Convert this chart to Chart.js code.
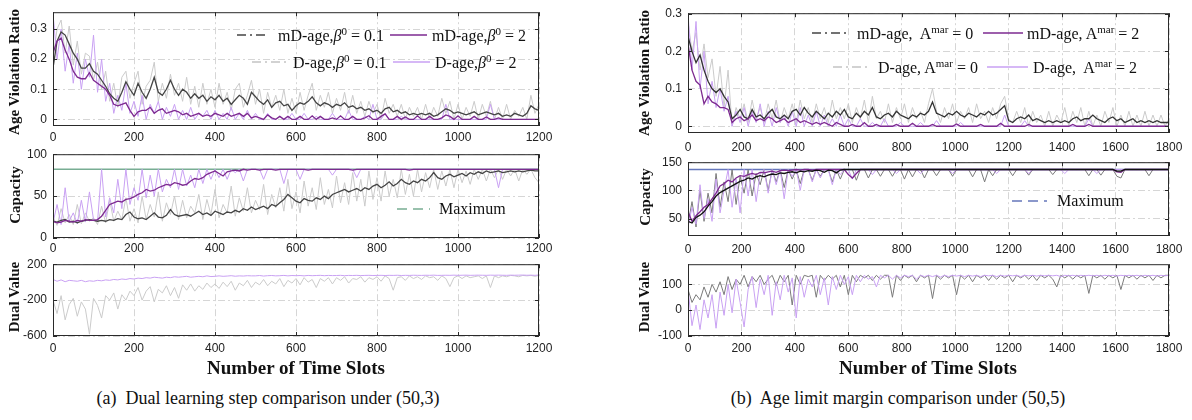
<!DOCTYPE html>
<html lang="en">
<head>
    <meta charset="UTF-8">
    <title>Dual learning step / Age limit margin comparison</title>
    <style>
        body { margin: 0; width: 1192px; height: 420px; background: #fff; position: relative; overflow: hidden; }
        canvas { position: absolute; }
        .ytitle, .xtitle, .cap, .lg, .smp { position: absolute; white-space: nowrap; color: #111; }
        .ytitle { font: bold 15px 'Liberation Serif', serif; transform: translate(-50%, -50%) rotate(-90deg); }
        .xtitle { font: bold 19px 'Liberation Serif', serif; transform: translate(-50%, -50%); }
        .cap { font: 18px 'Liberation Serif', serif; transform: translate(-50%, -50%); }
        .lg { font: 16px 'Liberation Serif', serif; transform: translateY(-50%); }
        .lg sup { font-size: 11px; vertical-align: 6px; }
        .lg i { font-style: italic; }
        .smp { transform: translateY(-50%); }
    </style>
</head>
<body>
    <canvas id="lt"></canvas>
    <canvas id="lm"></canvas>
    <canvas id="lb"></canvas>
    <canvas id="rt"></canvas>
    <canvas id="rm"></canvas>
    <canvas id="rb"></canvas>

    <div class="ytitle" style="left:14px;top:72px">Age Violation Ratio</div>
    <div class="ytitle" style="left:15px;top:195px">Capacity</div>
    <div class="ytitle" style="left:14px;top:297px">Dual Value</div>
    <div class="ytitle" style="left:644px;top:73px">Age Violation Ratio</div>
    <div class="ytitle" style="left:645px;top:197px">Capacity</div>
    <div class="ytitle" style="left:644px;top:297px">Dual Value</div>

    <div class="xtitle" style="left:296px;top:368px">Number of Time Slots</div>
    <div class="xtitle" style="left:928px;top:368px">Number of Time Slots</div>
    <div class="cap" style="left:268px;top:398px">(a)&nbsp; Dual learning step comparison under (50,3)</div>
    <div class="cap" style="left:898px;top:398px">(b)&nbsp; Age limit margin comparison under (50,5)</div>

    <div id="legends"></div>

    <script src="https://cdn.jsdelivr.net/npm/chart.js"></script>
    <script>
        // time slot positions of the sampled values
        const slotsA = Array.from({length: 121}, (_, i) => i * 10);
        const slotsB = Array.from({length: 121}, (_, i) => i * 15);

        const xTicksA = [0, 200, 400, 600, 800, 1000, 1200];
        const xTicksB = [0, 200, 400, 600, 800, 1000, 1200, 1400, 1600, 1800];
        const yTicksAge = [0, 0.1, 0.2, 0.3];
        const yTicksCapA = [0, 50, 100];
        const yTicksCapB = [50, 100, 150];
        const yTicksDualA = [-600, -200, 200];
        const yTicksDualB = [-100, 0, 100];

        const maxCapA = 82;
        const maxCapB = 137;

        // (a) age violation ratio
        const ageMdBeta01 = [
            0.17,0.26,0.29,0.28,0.25,0.22,0.2,0.17,0.17,0.185,
            0.16,0.15,0.13,0.11,0.085,0.07,0.06,0.09,0.125,0.1,
            0.08,0.12,0.09,0.07,0.1,0.14,0.09,0.08,0.1,0.13,
            0.1,0.08,0.1,0.09,0.07,0.085,0.07,0.08,0.06,0.075,
            0.065,0.08,0.06,0.07,0.05,0.065,0.08,0.07,0.05,0.09,
            0.075,0.06,0.05,0.065,0.04,0.055,0.06,0.045,0.05,0.03,
            0.045,0.055,0.05,0.06,0.075,0.055,0.045,0.055,0.05,0.04,
            0.05,0.045,0.055,0.04,0.045,0.035,0.04,0.03,0.035,0.025,
            0.03,0.02,0.035,0.04,0.025,0.03,0.02,0.025,0.015,0.02,
            0.015,0.02,0.015,0.02,0.01,0.015,0.025,0.035,0.03,0.02,
            0.025,0.02,0.015,0.02,0.025,0.015,0.02,0.025,0.02,0.015,
            0.02,0.01,0.015,0.01,0.02,0.015,0.01,0.02,0.045,0.035,0.03];
        const ageMdBeta2 = [
            0.22,0.26,0.27,0.23,0.2,0.16,0.14,0.135,0.135,0.155,
            0.13,0.12,0.11,0.1,0.08,0.05,0.045,0.05,0.055,0.03,
            0.01,0.025,0.03,0.03,0.04,0.02,0.03,0.035,0.02,0.025,
            0.03,0.025,0.015,0.02,0.01,0.015,0.02,0.01,0.015,0.01,
            0.02,0.015,0.01,0.02,0.01,0.015,0.02,0.01,0.02,0.005,
            0.01,0.005,0,0.015,0.005,0,0.01,0,0.01,0,
            0,0.01,0,0,0.012,0,0.01,0,0,0.005,
            0,0.012,0,0,0.01,0,0,0.005,0.012,0,
            0,0.01,0.018,0,0,0.01,0,0.008,0,0,
            0.012,0,0,0.01,0,0,0.005,0.015,0.01,0,
            0.012,0,0,0,0.01,0,0,0.008,0,0,
            0.005,0,0,0,0,0,0,0,0,0,0];
        const ageDBeta01 = [
            0.2,0.3,0.33,0.22,0.31,0.18,0.26,0.15,0.22,0.21,
            0.13,0.19,0.1,0.16,0.06,0.12,0.04,0.14,0.16,0.07,
            0.12,0.16,0.05,0.11,0.13,0.19,0.06,0.12,0.07,0.15,
            0.08,0.12,0.06,0.14,0.05,0.11,0.04,0.12,0.05,0.1,
            0.04,0.12,0.05,0.09,0.03,0.1,0.12,0.04,0.08,0.13,
            0.05,0.1,0.02,0.09,0.04,0.08,0.03,0.1,0.02,0.07,
            0.02,0.09,0.03,0.08,0.12,0.03,0.08,0.04,0.09,0.02,
            0.07,0.03,0.09,0.02,0.08,0.02,0.06,0.01,0.06,0.02,
            0.05,0,0.07,0.02,0.05,0.01,0.05,0,0.04,0.01,
            0.04,0,0.05,0,0.04,0.01,0.07,0.02,0.06,0,
            0.05,0,0.04,0.01,0.06,0,0.05,0.01,0.06,0,
            0.04,0,0.05,0,0.03,0.01,0.04,0,0.08,0.02,0.05];
        const ageDBeta2 = [
            0.35,0.2,0.3,0.16,0.25,0.12,0.22,0.1,0.2,0.14,
            0.28,0.09,0.2,0.06,0.12,0.02,0.08,0.03,0.12,0.02,
            0.06,0.01,0.08,0,0.05,0.02,0.06,0,0.04,0.01,
            0.05,0,0.03,0,0.04,0,0.02,0.01,0.03,0,
            0.03,0,0.02,0,0.04,0,0.02,0,0.03,0,
            0.02,0,0,0.02,0,0,0.01,0,0,0.02,
            0,0,0.02,0,0,0.01,0,0,0,0.02,
            0,0,0,0.03,0,0,0,0.01,0,0.05,
            0,0,0.02,0,0,0,0.01,0,0,0,
            0,0,0,0,0,0,0,0.05,0,0,
            0,0,0,0,0,0,0,0,0.05,0,
            0,0,0,0,0,0,0,0,0,0,0];

        // (a) capacity
        const capMdBeta01 = [
            20,19,21,22,19,20,18,20,21,22,
            21,20,21,20,22,21,23,22,28,31,
            25,23,24,22,26,30,25,24,27,34,
            28,26,27,28,26,29,32,28,30,27,
            32,30,28,31,30,33,31,35,33,37,
            34,36,38,35,40,38,42,46,52,48,
            44,42,47,45,44,48,46,50,47,52,
            54,56,58,55,57,59,56,60,58,62,
            64,60,63,67,62,65,70,66,64,68,
            66,70,68,72,78,72,70,74,76,73,
            75,77,74,78,76,79,77,80,78,79,
            80,78,79,80,79,80,79,80,81,80,80];
        const capMdBeta2 = [
            20,18,19,21,20,19,21,20,22,21,
            21,22,26,33,40,42,44,43,46,47,
            49,52,54,58,56,57,60,62,64,63,
            66,65,63,64,68,71,70,72,76,78,
            80,77,74,79,80,81,80,82,81,82,
            82,81,82,82,82,81,82,82,82,82,
            82,82,82,81,82,82,82,82,82,82,
            82,82,82,82,81,82,82,82,82,82,
            82,82,82,82,82,82,82,82,81,82,
            82,82,82,82,82,82,82,82,82,82,
            82,82,82,82,82,82,82,82,82,82,
            82,82,82,82,82,82,82,82,82,82,82];
        const capDBeta01 = [
            25,15,35,18,28,16,40,17,30,20,
            24,16,38,18,45,20,32,22,48,20,
            35,18,50,22,40,25,55,20,42,28,
            50,22,45,24,38,30,52,22,46,28,
            58,24,40,30,62,26,48,32,60,30,
            45,34,64,28,52,36,60,32,70,35,
            55,30,68,38,60,34,72,40,58,36,
            74,42,66,40,78,44,70,38,80,46,
            72,44,80,50,70,48,82,52,76,50,
            82,55,78,60,82,58,80,62,82,60,
            82,66,80,64,82,70,82,68,82,72,
            82,70,82,74,82,68,82,76,82,72,66];
        const capDBeta2 = [
            18,40,16,60,20,30,17,45,19,55,
            22,20,82,25,48,30,70,35,82,40,
            60,45,82,48,75,50,82,55,70,60,
            82,58,82,62,75,60,82,65,82,70,
            82,72,82,70,82,78,82,68,82,82,
            82,82,70,82,82,82,82,65,82,82,
            82,70,82,82,82,82,82,82,82,75,
            82,82,82,82,82,72,82,82,82,82,
            82,82,82,82,82,82,82,82,82,82,
            82,82,82,82,82,82,82,82,82,82,
            82,82,82,82,82,82,82,82,82,82,
            60,82,82,82,82,82,82,82,82,82,82];

        // (a) dual value
        const dualDBeta01 = [
            -200,-350,-150,-420,-250,-180,-380,-220,-300,-580,
            -180,-260,-400,-150,-200,-120,-300,-140,-200,-100,
            -150,-60,-200,-100,-50,-220,-80,-120,-40,-150,
            -60,-180,-30,-90,-20,-100,-40,-80,-10,-60,
            -20,-70,0,-50,10,-90,-10,-40,20,-60,
            0,-30,30,-40,10,-20,40,-50,20,-10,
            40,-30,50,0,30,-60,40,10,50,-20,
            50,20,60,-10,40,30,60,0,50,30,
            60,10,70,40,-90,50,60,20,70,40,
            60,30,70,50,60,20,70,40,-50,50,
            70,40,70,50,60,70,40,70,-60,70,
            50,70,60,75,70,60,75,70,75,65,75];
        const dualDBeta2 = [
            30,10,25,5,20,15,10,20,5,15,
            10,20,15,25,20,30,25,35,30,40,
            35,45,40,50,45,55,50,45,55,50,
            60,55,60,65,55,60,65,60,70,62,
            65,70,65,68,72,66,70,68,72,70,
            70,74,68,72,74,70,72,75,70,74,
            72,74,70,75,72,74,76,72,75,73,
            74,76,72,75,74,76,73,75,76,74,
            75,76,74,76,75,77,74,76,75,77,
            76,75,77,76,78,75,76,77,76,78,
            76,77,78,76,77,78,77,76,78,77,
            78,77,76,78,77,78,79,77,78,76,80];

        // (b) age violation ratio
        const ageMdMar0 = [
            0.24,0.2,0.17,0.19,0.15,0.12,0.1,0.09,0.1,0.08,
            0.065,0.02,0.03,0.045,0.025,0.02,0.045,0.025,0.03,0.02,
            0.035,0.045,0.025,0.02,0.03,0.02,0.04,0.045,0.03,0.05,
            0.035,0.025,0.04,0.03,0.02,0.035,0.025,0.04,0.03,0.045,
            0.025,0.02,0.035,0.025,0.04,0.03,0.05,0.025,0.02,0.03,
            0.035,0.025,0.04,0.03,0.025,0.02,0.03,0.025,0.035,0.03,
            0.04,0.065,0.035,0.03,0.025,0.035,0.03,0.04,0.03,0.025,
            0.035,0.03,0.025,0.035,0.03,0.04,0.03,0.035,0.045,0.055,
            0.015,0.01,0.02,0.025,0.02,0.03,0.015,0.02,0.015,0.01,
            0.015,0.01,0.015,0.01,0.015,0.01,0.02,0.025,0.015,0.02,
            0.02,0.03,0.02,0.015,0.01,0.02,0.025,0.015,0.02,0.01,
            0.015,0.02,0.01,0.015,0.01,0.015,0.01,0.015,0.01,0.01,0.01];
        const ageMdMar2 = [
            0.22,0.15,0.12,0.11,0.06,0.08,0.065,0.06,0.05,0.05,
            0.045,0.01,0.02,0.025,0.015,0.02,0.03,0.015,0.02,0.015,
            0.025,0.02,0.01,0.015,0.02,0.01,0.015,0.02,0.01,0.015,
            0.01,0.005,0.01,0.005,0.01,0.005,0,0.01,0.005,0,
            0,0.005,0,0,0.01,0,0,0.005,0,0,
            0,0,0.005,0,0,0,0.008,0,0,0,
            0,0.005,0,0,0,0,0,0.006,0,0,
            0,0,0,0.005,0,0,0,0,0.008,0,
            0,0,0,0,0,0.005,0,0,0,0,
            0,0,0,0,0,0,0.005,0,0,0,
            0.005,0,0,0,0,0,0,0,0,0,
            0,0,0,0,0,0,0,0,0,0,0];
        const ageDMar0 = [
            0.28,0.2,0.25,0.15,0.22,0.13,0.18,0.08,0.16,0.05,
            0.15,0,0.05,0.02,0.06,0.01,0.07,0.02,0.05,0.01,
            0.06,0.02,0.07,0.01,0.05,0.02,0.06,0.01,0.07,0.02,
            0.05,0.01,0.06,0.02,0.05,0.01,0.07,0.02,0.05,0.02,
            0.06,0.01,0.05,0.02,0.07,0.01,0.08,0.02,0.04,0.01,
            0.06,0.01,0.05,0.02,0.06,0.01,0.05,0.02,0.04,0.01,
            0.06,0.1,0.04,0.01,0.05,0.02,0.06,0.01,0.04,0.02,
            0.05,0.01,0.06,0.02,0.04,0.01,0.05,0.02,0.06,0.08,
            0.02,0.01,0.04,0.01,0.05,0,0.04,0.01,0.03,0,
            0.04,0,0.03,0.01,0.05,0,0.04,0.01,0.05,0,
            0.04,0,0.03,0,0.04,0.01,0.05,0,0.03,0,
            0.04,0,0.03,0,0.04,0,0.03,0,0.03,0,0.02];
        const ageDMar2 = [
            0.3,0.15,0.28,0.1,0.2,0.06,0.12,0.05,0.1,0.04,
            0.08,0,0.04,0.01,0.05,0,0.04,0.01,0.06,0,
            0.04,0,0.05,0.01,0.03,0,0.04,0,0.05,0,
            0.03,0,0.04,0,0.03,0,0.02,0,0.03,0,
            0.02,0,0,0.02,0,0,0.01,0,0,0.02,
            0,0,0,0.01,0,0,0,0,0.01,0,
            0,0,0.015,0,0,0,0,0,0.01,0,
            0,0,0,0,0,0,0,0,0,0.03,
            0,0,0,0,0.015,0,0,0,0,0,
            0,0,0,0,0,0,0,0,0,0,
            0.02,0,0,0,0,0,0,0,0,0,
            0,0,0,0,0,0,0,0,0,0,0];

        // (b) capacity
        const capMdMar0 = [
            45,42,52,56,62,72,80,90,96,100,
            104,108,112,116,118,122,120,124,126,124,
            127,129,128,131,130,132,133,131,134,133,
            135,134,136,135,132,136,135,131,136,137,
            137,137,137,137,137,137,137,137,137,137,
            137,137,137,137,137,137,137,137,137,137,
            137,137,137,137,137,137,137,137,137,137,
            137,137,137,137,137,137,137,137,137,137,
            137,137,137,137,137,137,137,137,137,137,
            137,137,137,137,137,137,137,137,137,137,
            137,137,137,137,137,137,137,134,134,137,
            137,137,137,137,137,137,137,137,137,137,137];
        const capMdMar2 = [
            62,45,55,62,70,75,85,95,108,112,
            118,115,122,126,125,128,130,128,132,131,
            133,134,132,135,136,135,136,137,136,137,
            137,136,137,137,137,137,137,137,137,137,
            128,122,130,137,137,137,137,137,137,137,
            137,137,137,137,137,137,137,137,137,137,
            137,137,137,137,137,137,137,137,137,137,
            137,137,137,137,137,137,137,137,137,137,
            137,137,137,137,137,137,137,137,137,137,
            137,137,137,137,137,137,137,137,137,137,
            137,137,137,137,137,137,137,133,132,137,
            137,137,137,137,137,137,137,137,137,137,137];
        const capDMar0 = [
            40,80,35,100,45,95,60,130,70,115,
            80,137,75,125,95,137,90,130,110,137,
            100,137,115,137,105,137,120,137,112,137,
            137,118,137,125,137,137,115,137,120,137,
            137,137,118,137,137,122,137,137,125,137,
            137,125,137,137,120,137,124,137,137,122,
            137,137,126,137,137,137,125,137,137,137,
            137,124,137,137,115,137,126,137,137,137,
            137,126,137,137,137,127,137,137,137,137,
            137,128,137,137,137,137,137,137,137,137,
            126,137,137,127,137,137,137,125,122,137,
            137,137,137,137,137,126,137,137,137,137,137];
        const capDMar2 = [
            35,70,40,110,50,85,45,120,60,100,
            137,70,120,60,137,90,137,80,130,137,
            95,137,110,137,85,137,125,137,100,137,
            137,115,137,122,137,137,110,137,128,137,
            137,120,137,137,137,137,128,137,137,137,
            137,137,130,137,137,137,137,137,130,137,
            137,137,137,137,137,137,130,137,137,137,
            137,137,137,137,137,137,137,130,137,137,
            137,137,137,137,137,130,137,137,137,137,
            137,137,137,137,130,137,137,137,137,137,
            137,137,130,137,137,137,137,137,137,137,
            137,137,137,137,137,137,137,137,137,137,137];

        // (b) dual value
        const dualDMar0 = [
            80,30,60,40,90,50,100,70,110,60,
            130,80,120,100,135,90,130,110,135,100,
            120,135,95,135,110,135,20,135,100,135,
            130,135,50,135,115,135,120,135,90,135,
            60,135,110,135,125,135,115,135,120,135,
            135,50,135,115,135,125,135,110,135,125,
            135,45,135,120,135,125,135,60,135,120,
            135,110,135,125,135,115,135,120,135,125,
            135,110,135,125,135,120,135,115,135,125,
            135,120,90,135,125,135,120,135,125,135,
            65,135,125,135,120,135,125,135,80,135,
            125,135,120,135,125,135,115,135,125,135,135];
        const dualDMar2 = [
            80,-60,20,-75,40,-30,60,-70,70,-20,
            100,-10,120,30,-65,80,130,10,120,60,
            135,-20,110,40,135,70,125,-30,130,50,
            120,90,135,60,125,20,130,80,135,100,
            130,60,135,110,135,120,130,90,135,125,
            135,120,135,125,135,130,135,120,135,130,
            135,130,135,128,135,130,135,132,135,130,
            135,132,135,130,135,133,135,130,135,132,
            135,133,135,130,135,133,135,132,135,133,
            135,133,135,130,135,133,135,132,135,133,
            135,133,135,132,135,133,135,132,135,133,
            135,133,135,132,135,133,135,132,135,133,135];

        const cDark = '#444444';
        const cPurple = '#7d2a90';
        const cLightGrey = '#cbcbcb';
        const cLightPurple = '#c9a1f3';
        const cMidGrey = '#7a7a7a';
        const cGreen = '#78ad93';
        const cBlue = '#6577bb';
        const gridColor = '#d6d6d6';
        const tickFont = {family: 'Liberation Sans', size: 12};

        const pts = (xs, ys) => ys.map((v, i) => ({x: xs[i], y: v}));
        const flat = (xs, v) => [{x: xs[0], y: v}, {x: xs[xs.length - 1], y: v}];
        const line = (data, color, width) => ({data, borderColor: color, borderWidth: width, fill: false});

        // box with inward ticks on all four sides, like the original figure
        const frame = {
            id: 'frame',
            afterDatasetsDraw(chart) {
                const {ctx, chartArea: a, scales: {x, y}} = chart;
                ctx.save();
                ctx.strokeStyle = '#2a2a2a';
                ctx.lineWidth = 1;
                ctx.beginPath();
                x.ticks.forEach(t => {
                    const p = Math.round(x.getPixelForValue(t.value)) + 0.5;
                    ctx.moveTo(p, a.bottom); ctx.lineTo(p, a.bottom - 4);
                    ctx.moveTo(p, a.top); ctx.lineTo(p, a.top + 4);
                });
                y.ticks.forEach(t => {
                    const p = Math.round(y.getPixelForValue(t.value)) + 0.5;
                    ctx.moveTo(a.left, p); ctx.lineTo(a.left + 4, p);
                    ctx.moveTo(a.right, p); ctx.lineTo(a.right - 4, p);
                });
                ctx.stroke();
                ctx.strokeRect(a.left + 0.5, a.top + 0.5, a.width - 1, a.height - 1);
                ctx.restore();
            }
        };

        function plot(id, box, o) {
            const canvas = document.getElementById(id);
            const yw = 44;
            const cx = box.l - yw, cy = box.t - 6;
            canvas.style.left = cx + 'px';
            canvas.style.top = cy + 'px';
            canvas.width = box.r - cx + 26;
            canvas.height = box.b - cy + 24;
            new Chart(canvas, {
                type: 'line',
                data: {datasets: o.sets},
                options: {
                    responsive: false,
                    animation: false,
                    devicePixelRatio: 1,
                    layout: {padding: {top: 6, right: 26, left: 0, bottom: 0}},
                    plugins: {legend: {display: false}, tooltip: {enabled: false}},
                    elements: {point: {radius: 0}, line: {tension: 0}},
                    scales: {
                        x: {
                            type: 'linear', min: 0, max: o.xTicks[o.xTicks.length - 1],
                            afterBuildTicks: s => { s.ticks = o.xTicks.map(v => ({value: v})); },
                            afterFit: s => { s.height = 24; },
                            ticks: {font: tickFont, color: '#222', padding: o.xPad, maxRotation: 0, autoSkip: false, callback: v => String(v)},
                            grid: {color: gridColor, drawTicks: false},
                            border: {display: false, dash: [7, 3, 2, 3]}
                        },
                        y: {
                            min: o.yMin, max: o.yMax,
                            afterBuildTicks: s => { s.ticks = o.yTicks.map(v => ({value: v})); },
                            afterFit: s => { s.width = yw; },
                            ticks: {font: tickFont, color: '#222', padding: 6, autoSkip: false, callback: v => String(v)},
                            grid: {color: gridColor, drawTicks: false},
                            border: {display: false, dash: [7, 3, 2, 3]}
                        }
                    }
                },
                plugins: [frame]
            });
        }

        plot('lt', {l: 53, t: 5, r: 539, b: 126}, {
            xTicks: xTicksA, yTicks: yTicksAge, yMin: -0.022, yMax: 0.356, xPad: 4,
            sets: [
                line(pts(slotsA, ageMdBeta2), cPurple, 1.3),
                line(pts(slotsA, ageMdBeta01), cDark, 1.3),
                line(pts(slotsA, ageDBeta2), cLightPurple, 1),
                line(pts(slotsA, ageDBeta01), cLightGrey, 1)
            ]
        });
        plot('lm', {l: 53, t: 147, r: 539, b: 238}, {
            xTicks: xTicksA, yTicks: yTicksCapA, yMin: 0, yMax: 100, xPad: 3,
            sets: [
                line(pts(slotsA, capMdBeta2), cPurple, 1.3),
                line(pts(slotsA, capMdBeta01), cDark, 1.3),
                line(pts(slotsA, capDBeta2), cLightPurple, 1),
                line(pts(slotsA, capDBeta01), cLightGrey, 1),
                line(flat(slotsA, maxCapA), cGreen, 1.5)
            ]
        });
        plot('lb', {l: 53, t: 257, r: 539, b: 336}, {
            xTicks: xTicksA, yTicks: yTicksDualA, yMin: -600, yMax: 200, xPad: 5,
            sets: [
                line(pts(slotsA, dualDBeta2), cLightPurple, 1),
                line(pts(slotsA, dualDBeta01), cLightGrey, 1)
            ]
        });
        plot('rt', {l: 688, t: 6, r: 1169, b: 133}, {
            xTicks: xTicksB, yTicks: yTicksAge, yMin: -0.018, yMax: 0.302, xPad: 7,
            sets: [
                line(pts(slotsB, ageMdMar2), cPurple, 1.3),
                line(pts(slotsB, ageMdMar0), '#333333', 1.3),
                line(pts(slotsB, ageDMar2), cLightPurple, 1),
                line(pts(slotsB, ageDMar0), cLightGrey, 1)
            ]
        });
        plot('rm', {l: 688, t: 155, r: 1169, b: 236}, {
            xTicks: xTicksB, yTicks: yTicksCapB, yMin: 19, yMax: 150, xPad: 6,
            sets: [
                line(pts(slotsB, capMdMar0), '#111111', 1.3),
                line(pts(slotsB, capMdMar2), cPurple, 1.3),
                line(pts(slotsB, capDMar2), cLightPurple, 1),
                line(pts(slotsB, capDMar0), cMidGrey, 1),
                line(flat(slotsB, maxCapB), cBlue, 1.5)
            ]
        });
        plot('rb', {l: 688, t: 257, r: 1169, b: 336}, {
            xTicks: xTicksB, yTicks: yTicksDualB, yMin: -100, yMax: 178, xPad: 5,
            sets: [
                line(pts(slotsB, dualDMar2), cLightPurple, 1),
                line(pts(slotsB, dualDMar0), cMidGrey, 1)
            ]
        });

        // legends (sample line + text), placed inside the plots
        const sample = (x1, x2, y, color, dash) => {
            const w = x2 - x1;
            return `<svg class="smp" style="left:${x1}px;top:${y}px" width="${w}" height="4">` +
                `<line x1="0" y1="2" x2="${w}" y2="2" stroke="${color}" stroke-width="1.4"${dash ? ` stroke-dasharray="${dash}"` : ''}/></svg>`;
        };
        const label = (x, y, html) => `<div class="lg" style="left:${x}px;top:${y}px">${html}</div>`;
        const beta = v => `,<i>β</i><sup>0</sup> = ${v}`;
        const amar = v => `, A<sup>mar</sup> = ${v}`;
        const dashDot = '9,4,2,4';

        document.getElementById('legends').innerHTML = [
            sample(237, 268, 35, cDark, dashDot), label(278, 35, 'mD-age' + beta('0.1')),
            sample(390, 427, 35, cPurple), label(432, 35, 'mD-age' + beta('2')),
            sample(252, 288, 62, '#c4c4c4', dashDot), label(293, 62, 'D-age' + beta('0.1')),
            sample(393, 430, 62, cLightPurple), label(435, 62, 'D-age' + beta('2')),
            sample(812, 848, 33, cDark, dashDot), label(857, 33, 'mD-age,&nbsp;' + amar('0').slice(1)),
            sample(983, 1023, 33, cPurple), label(1027, 33, 'mD-age' + amar('2')),
            sample(833, 867, 67, '#c4c4c4', dashDot), label(878, 67, 'D-age' + amar('0')),
            sample(987, 1028, 67, cLightPurple), label(1033, 67, 'D-age,&nbsp;' + amar('2').slice(1)),
            sample(397, 430, 209, cGreen, '10,6'), label(439, 209, 'Maximum'),
            sample(1012, 1047, 201, cBlue, '10,6'), label(1057, 201, 'Maximum')
        ].join('');
    </script>
</body>
</html>
